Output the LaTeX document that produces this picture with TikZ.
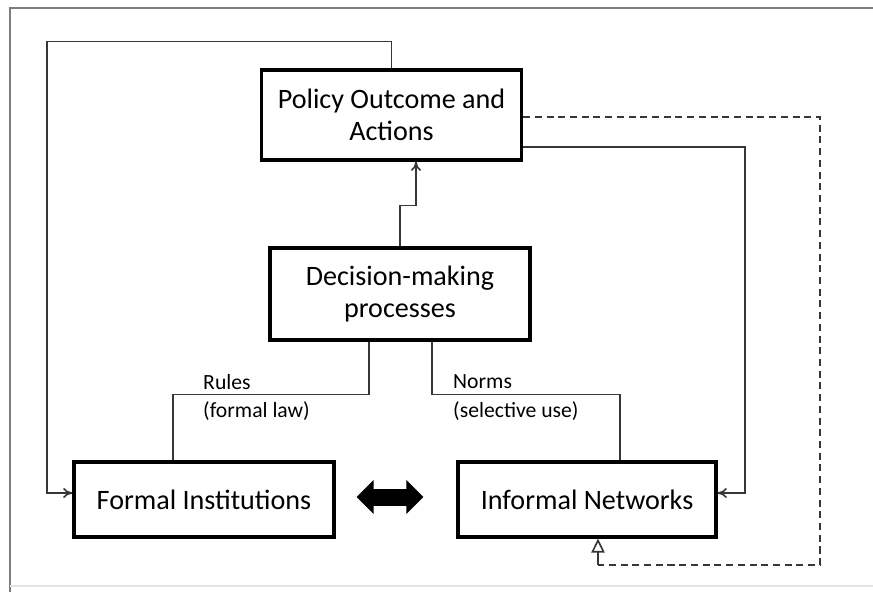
\documentclass[tikz,border=0pt]{standalone}
\usepackage{fontspec}
\setmainfont{Carlito}
\usepackage{xcolor}
\usetikzlibrary{arrows.meta, positioning, calc}
\definecolor{frameGray}{RGB}{125, 125, 125}
\definecolor{lineGray}{RGB}{55, 55, 55}

\begin{document}
\begin{tikzpicture}[
    x=0.03cm, y=-0.03cm,
    box/.style={rectangle, draw=black, line width=2.7pt, minimum width=7.8cm, align=center, inner sep=0pt, font=\fontsize{24}{27}\selectfont},
    link/.style={draw=lineGray, line width=1.4pt},
    arrow/.style={link, -{To[length=2.8mm, width=3mm]}},
    feedback/.style={link, dash pattern=on 6pt off 4pt},
    opentip/.style={link, -{Triangle[open, fill=white, length=4.2mm, width=4mm]}},
    edgetext/.style={anchor=west, align=left, inner sep=0pt, font=\fontsize{18.5}{24.5}\selectfont},
    biarrow/.style={line width=0.51cm, {Triangle[length=0.51cm, width=0.99cm]}-{Triangle[length=0.51cm, width=0.99cm]}}
]
\useasboundingbox (0,0) rectangle (873,592);

% Frame
\draw[frameGray, line width=1.5pt] (873,8) -- (10,8) -- (10,592);
\draw[black!10, line width=1pt] (10,586) -- (873,586);

% Boxes
\node[box, minimum height=2.7cm] (policy) at (391.5,115) {Policy Outcome and\\Actions};
\node[box, minimum height=2.76cm] (decision) at (400,294) {Decision-making\\processes};
\node[box, minimum height=2.25cm] (formal) at (204,499.5) {Formal Institutions};
\node[box, minimum height=2.25cm, minimum width=7.74cm] (informal) at (587,499.5) {Informal Networks};

% Labels
\node[edgetext] (rules) at (203,397.5) {Rules\\(formal law)};
\node[edgetext] (norms) at (453,397.5) {Norms\\(selective use)};

% Arrows
\draw[arrow] (decision.north) -- ++(0,-41) -| ($(policy.south)+(24.5,0)$);
\draw[link] ($(decision.south)+(-31,0)$) -- ++(0,53) -| ($(formal.north)+(-31,0)$);
\draw[link] ($(decision.south)+(32,0)$) -- ++(0,53) -| ($(informal.north)+(33,0)$);
\draw[arrow] (policy.north) -- ++(0,-27) -| (47,493) -- ($(formal.west)+(0,-6.5)$);
\draw[arrow] ($(policy.east)+(0,32)$) -| (745,493) -- ($(informal.east)+(0,-6.5)$);

% Feedback loop (dashed)
\coordinate (loopend) at (598,565);
\draw[feedback] ($(policy.east)+(0,2)$) -| (820,565) -- (loopend);
\draw[opentip] (loopend) -- ($(informal.south)+(11,0)$);

\draw[biarrow, shorten <=0.63cm, shorten >=0.99cm] ($(formal.east)+(0,-2.5)$) -- ($(informal.west)+(0,-2.5)$);

\end{tikzpicture}
\end{document}
